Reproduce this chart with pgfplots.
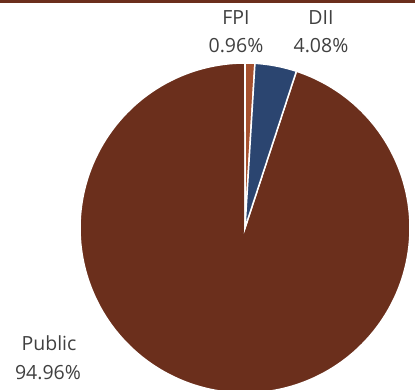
\documentclass[border=0pt]{standalone}
\usepackage{pgfplots}
\pgfplotsset{compat=1.18}
\usepackage{fontspec}
\setmainfont{Open Sans}
\definecolor{pubc}{HTML}{6B2F1C}
\definecolor{fpic}{HTML}{A5502E}
\definecolor{diic}{HTML}{2B4570}
\definecolor{txt}{HTML}{404040}
% shares (percent)
\def\vFPI{0.96}
\def\vDII{4.08}
\def\vPUB{94.96}
\begin{document}
\begin{tikzpicture}
\begin{axis}[width=415pt,height=390pt,scale only axis,
  xmin=0,xmax=415,ymin=0,ymax=390,hide axis,clip=true]
% sectors: angle measured clockwise from top, centre (245,162), radius 165
\pgfmathsetmacro{\aA}{0}
\pgfmathsetmacro{\aB}{\vFPI*3.6}
\pgfmathsetmacro{\aC}{(\vFPI+\vDII)*3.6}
\pgfmathsetmacro{\aD}{(\vFPI+\vDII+\vPUB)*3.6}
\addplot[fill=pubc,draw=white,line width=1.5pt,domain=\aC:\aD,samples=180,variable=\t]
  ({245+165*sin(\t)},{162+165*cos(\t)}) -- (axis cs:245,162) -- cycle;
\addplot[fill=fpic,draw=white,line width=1.5pt,domain=\aA:\aB,samples=5,variable=\t]
  ({245+165*sin(\t)},{162+165*cos(\t)}) -- (axis cs:245,162) -- cycle;
\addplot[fill=diic,draw=white,line width=1.5pt,domain=\aB:\aC,samples=20,variable=\t]
  ({245+165*sin(\t)},{162+165*cos(\t)}) -- (axis cs:245,162) -- cycle;
\fill[pubc] (axis cs:0,386.5) rectangle (axis cs:415,391);
\begin{scope}[every node/.style={text=txt,font=\fontsize{19.5}{23}\selectfont,anchor=base}]
\node at (axis cs:236,365) {FPI};
\node at (axis cs:236,337) {0.96\%};
\node at (axis cs:321,365) {DII};
\node at (axis cs:321,337) {4.08\%};
\node at (axis cs:49,39) {Public};
\node at (axis cs:48,10) {94.96\%};
\end{scope}
\end{axis}
\end{tikzpicture}
\end{document}
